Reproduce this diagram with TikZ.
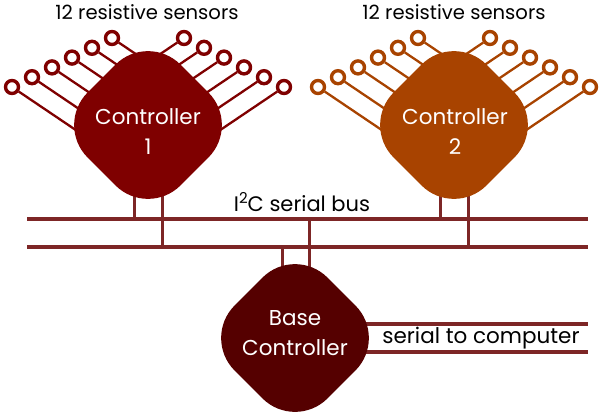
\documentclass[tikz,border=0pt]{standalone}
\usepackage{fontspec}
\setmainfont{Poppins}
\usetikzlibrary{shapes.geometric,calc}
\pgfdeclarelayer{background}
\pgfsetlayers{background,main}
\definecolor{cone}{RGB}{127,0,0}
\definecolor{ctwo}{RGB}{168,67,0}
\definecolor{cbase}{RGB}{85,0,0}
\definecolor{cbus}{RGB}{125,38,38}
\begin{document}
\begin{tikzpicture}[x=1pt,y=-1pt,
  ctrl/.style={diamond, aspect=1, minimum width=186pt, minimum height=186pt,
    inner sep=0pt, rounded corners=46pt},
  sensor/.style={circle, minimum size=13pt, inner sep=0pt, line width=3.4pt, fill=white},
  wire/.style={line width=2.3pt},
  busline/.style={cbus, line width=4pt},
  stub/.style={cbus, line width=3pt},
  lbl/.style={text=black, inner sep=0pt},
  ctext/.style={font=\fontsize{21.5}{30}\selectfont, text=white, align=center, inner sep=0pt}]
\useasboundingbox (0,0) rectangle (600,413);

% controllers
\node[ctrl, fill=cone] (c1) at (148,125) {};
\node[ctrl, fill=ctwo] (c2) at (454,125) {};
\node[ctrl, fill=cbase] (base) at (295,338) {};

% sensors
\foreach \c/\cx/\col in {1/148/cone,2/454/ctwo}{
  \foreach \k in {0,...,5}{
    \node[sensor, draw=\col] (s\c l\k) at ({\cx-36-20*\k},{38+9.8*\k}) {};
    \node[sensor, draw=\col] (s\c r\k) at ({\cx+36+20*\k},{38+9.8*\k}) {};
    \coordinate (e\c l\k) at ($(s\c l\k)+(34:{(36+20*\k)/0.829})$);
    \coordinate (e\c r\k) at ($(s\c r\k)+(146:{(36+20*\k)/0.829})$);
    \begin{pgfonlayer}{background}
      \draw[wire, \col] (s\c l\k) -- (e\c l\k);
      \draw[wire, \col] (s\c r\k) -- (e\c r\k);
    \end{pgfonlayer}
  }
}

% bus
\coordinate (busAl) at (27,219);
\coordinate (busAr) at (588,219);
\coordinate (busBl) at (27,247);
\coordinate (busBr) at (588,247);
\coordinate (t1a) at (134,219);
\coordinate (t1b) at (162,247);
\coordinate (t2a) at (440,219);
\coordinate (t2b) at (468,247);
\coordinate (tba) at (282,247);
\coordinate (tbb) at (309,219);
\coordinate (ser1) at (588,324);
\coordinate (ser2) at (588,352);
\begin{pgfonlayer}{background}
  \draw[busline] (busAl) -- (busAr);
  \draw[busline] (busBl) -- (busBr);
  \draw[stub] (t1a |- c1.center) -- (t1a);
  \draw[stub] (t1b |- c1.center) -- (t1b);
  \draw[stub] (t2a |- c2.center) -- (t2a);
  \draw[stub] (t2b |- c2.center) -- (t2b);
  \draw[stub] (tba |- base.center) -- (tba);
  \draw[stub] (tbb |- base.center) -- (tbb);
  \draw[busline] (base.center |- ser1) -- (ser1);
  \draw[busline] (base.center |- ser2) -- (ser2);
\end{pgfonlayer}

% texts
\node[ctext] (l1) at (148,132) {Controller\\1};
\node[ctext] (l2) at (455,132) {Controller\\2};
\node[ctext] (lb) at (295,333) {Base\\Controller};
\node[lbl, font=\fontsize{19.6}{23}\selectfont] (h1) at (147,12) {12 resistive sensors};
\node[lbl, font=\fontsize{19.6}{23}\selectfont] (h2) at (454,12) {12 resistive sensors};
\node[lbl, font=\fontsize{21}{23}\selectfont] (bus) at (302,202) {I\raisebox{0.75ex}{\fontsize{15}{15}\selectfont 2}C serial bus};
\node[lbl, font=\fontsize{21.5}{23}\selectfont] (ser) at (481,338) {serial to computer};
\end{tikzpicture}
\end{document}
